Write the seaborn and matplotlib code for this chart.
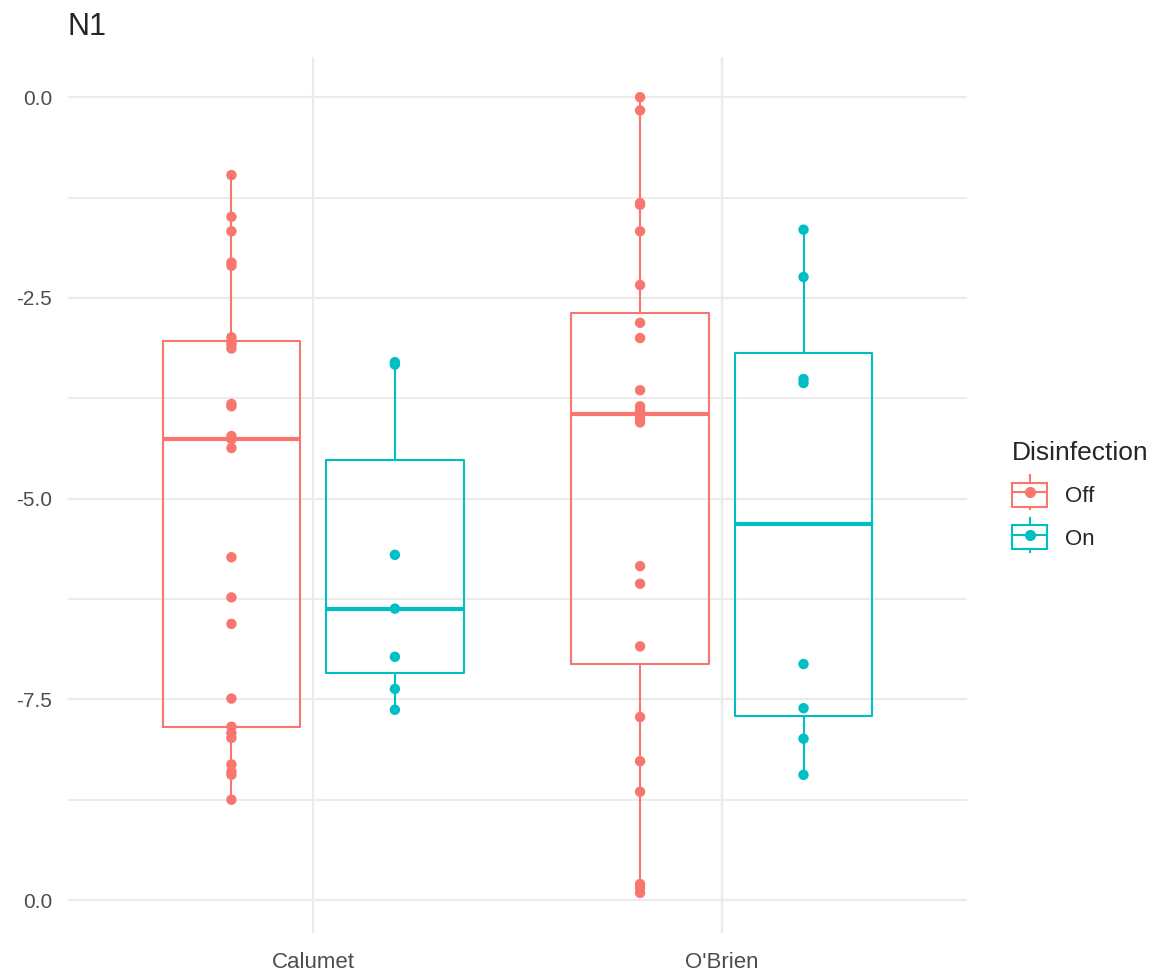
import pandas as pd
import matplotlib
matplotlib.use("Agg")
import matplotlib.pyplot as plt
import seaborn as sns
from matplotlib.lines import Line2D
from matplotlib.patches import Patch

# values
calumet_off = [-0.97, -1.49, -1.67, -2.06, -2.10, -2.99, -3.04, -3.08, -3.13,
               -3.82, -3.85, -4.22, -4.26, -4.37, -5.73, -6.23, -6.56, -7.49,
               -7.84, -7.92, -7.98, -8.31, -8.40, -8.44, -8.75]
calumet_on = [-3.30, -3.33, -5.70, -6.37, -6.97, -7.37, -7.63]
obrien_off = [0.0, -0.165, -1.32, -1.34, -1.67, -2.34, -2.81, -3.00, -3.65,
              -3.85, -3.90, -3.93, -3.95, -4.00, -4.05, -5.84, -6.06,
              -6.84, -7.72, -8.27, -8.65, -9.80, -9.85, -9.91]
obrien_on = [-1.65, -2.24, -3.51, -3.56, -7.06, -7.61, -7.99, -8.44]

sites = ["Calumet", "O'Brien"]
levels = ["Off", "On"]
colors = ["#F8766D", "#00BFC4"]
ytick_vals = [-10, -7.5, -5, -2.5, 0]
ytick_labels = ["0.0", "-7.5", "-5.0", "-2.5", "0.0"]

groups = [("Calumet", "Off", calumet_off), ("Calumet", "On", calumet_on),
          ("O'Brien", "Off", obrien_off), ("O'Brien", "On", obrien_on)]
rows = []
for site, dis, vals in groups:
    for v in vals:
        rows.append({"Site": site, "Disinfection": dis, "N1": v})
df = pd.DataFrame(rows)

sns.set_style("white")
plt.rcParams["font.family"] = ["Liberation Sans", "DejaVu Sans"]

fig = plt.figure(figsize=(11.6, 9.73), dpi=100)
ax = fig.add_axes([0.0586, 0.0411, 0.775, 0.9003])

pal = dict(zip(levels, colors))
sns.boxplot(data=df, x="Site", y="N1", hue="Disinfection", order=sites,
            hue_order=levels, palette=pal, fill=False, width=0.8, gap=0.16,
            linewidth=1.5, showcaps=False, showfliers=False, whis=1.5,
            medianprops={"linewidth": 3}, legend=False, ax=ax)
sns.stripplot(data=df, x="Site", y="N1", hue="Disinfection", order=sites,
              hue_order=levels, palette=pal, dodge=True, jitter=False,
              size=7.5, linewidth=0, legend=False, zorder=5, ax=ax)

ax.set_xlim(-0.6, 1.6)
ax.set_ylim(-10.41, 0.5)
ax.set_yticks(ytick_vals)
ax.set_yticklabels(ytick_labels)
ax.set_yticks([-8.75, -6.25, -3.75, -1.25], minor=True)
ax.grid(True, which="major", color="#EBEBEB", linewidth=1.6)
ax.grid(True, which="minor", axis="y", color="#EBEBEB", linewidth=1.3)
ax.set_axisbelow(True)
ax.tick_params(axis="y", which="both", length=0, labelsize=15,
               labelcolor="#4D4D4D", pad=11.5)
ax.tick_params(axis="x", which="both", length=0, labelsize=16,
               labelcolor="#4D4D4D", pad=14)
for s in ax.spines.values():
    s.set_visible(False)
ax.set_xlabel("")
ax.set_ylabel("")
fig.text(0.0586, 0.972, "N1", fontsize=22, ha="left", va="center")

handles = []
for c in colors:
    whisk = Line2D([], [], color=c, marker="|", markersize=26, linestyle="none",
                   markeredgewidth=1.5)
    box = Patch(facecolor="white", edgecolor=c, linewidth=1.5)
    mid = Line2D([], [], color=c, marker="o", markersize=7, linewidth=1.5)
    handles.append((whisk, box, mid))
leg = fig.legend(handles, levels, title="Disinfection", loc="center left",
                 bbox_to_anchor=(0.8724, 0.491), frameon=False, fontsize=16,
                 title_fontsize=19, handlelength=1.58, handleheight=1.3,
                 labelspacing=0.8, handletextpad=0.8, borderpad=0,
                 borderaxespad=0)
leg._legend_box.align = "left"

fig.savefig("out.png", dpi=100)
